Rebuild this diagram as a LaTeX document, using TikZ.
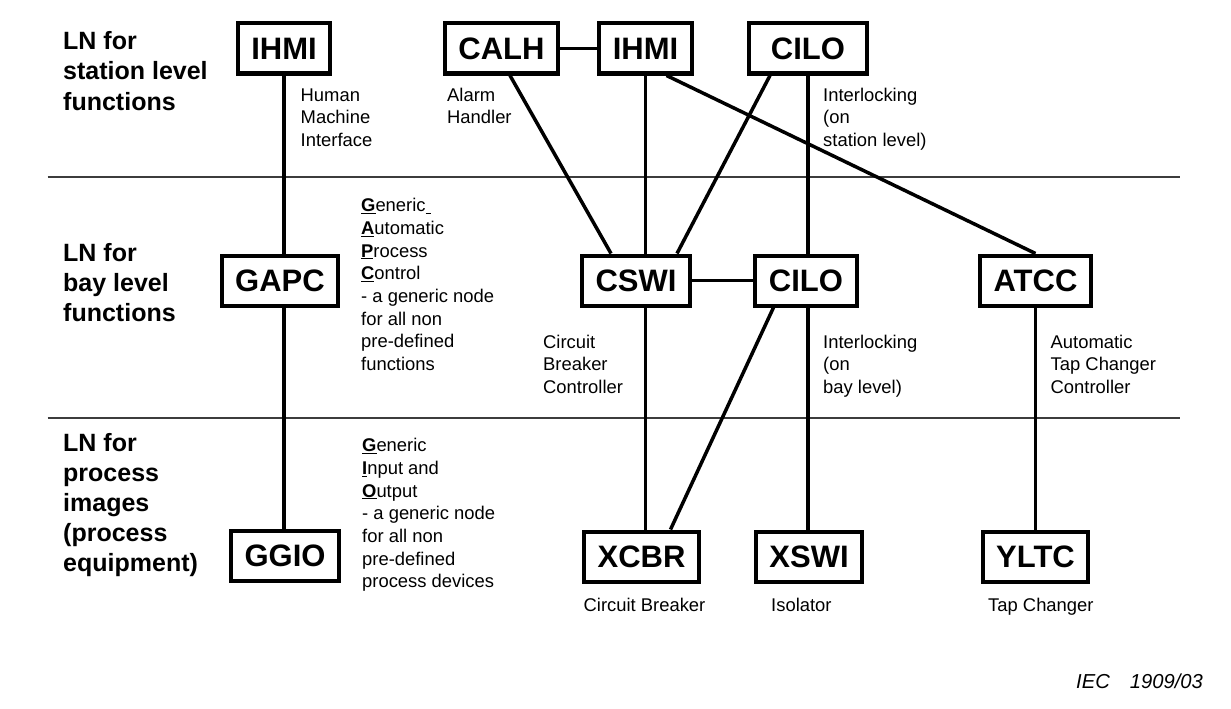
\documentclass[tikz,border=0pt]{standalone}
\usepackage{fontspec}
\setmainfont{Liberation Sans}
\usepackage{tikz}
\usepackage{xcolor}
\usetikzlibrary{positioning,calc}
\definecolor{ink}{HTML}{000000}
\definecolor{rule}{HTML}{3C3C3C}
\newcommand{\ul}[1]{\underline{\textbf{#1}}}
\tikzset{
  lnbox/.style={draw=ink, line width=4pt, inner xsep=13.5pt, inner ysep=0pt,
                minimum height=50pt, font=\fontsize{31}{31}\selectfont\bfseries},
  link/.style={draw=ink, line width=3.5pt},
  divider/.style={draw=rule, line width=1.5pt},
  levellbl/.style={anchor=base west, inner sep=0pt, align=left,
                   font=\fontsize{25}{30}\selectfont\bfseries},
  note/.style={anchor=base west, inner sep=0pt, align=left,
               font=\fontsize{18.4}{22.7}\selectfont}
}
\begin{document}
\begin{tikzpicture}[x=1pt,y=-1pt]
        \useasboundingbox (0,0) rectangle (1231,709);
        % level dividers
        \draw[divider] (47.5,177) -- (1180,177);
        \draw[divider] (47.5,418) -- (1180,418);
        % level labels (placed at the baseline of their last line)
        \node[levellbl] (lvsta) at (63,110) {LN for\\station level\\functions};
        \node[levellbl] (lvbay) at (63,321.7) {LN for\\bay level\\functions};
        \node[levellbl] (lvproc) at (63,571.7) {LN for\\process\\images\\(process\\equipment)};
        % station level
        \node[lnbox] (ihmiA) at (284,48.5) {IHMI};
        \node[lnbox] (calh) at (501.5,48.5) {CALH};
        \node[lnbox] (ihmiB) at (645.5,48.5) {IHMI};
        \node[lnbox,minimum width=118pt] (ciloA) at (808,48.5) {CILO};
        % bay level
        \node[lnbox] (gapc) at (280,280.5) {GAPC};
        \node[lnbox] (cswi) at (636,280.5) {CSWI};
        \node[lnbox] (ciloB) at (806,280.5) {CILO};
        \node[lnbox] (atcc) at (1035.5,280.5) {ATCC};
        % process level
        \node[lnbox] (ggio) at (285,556) {GGIO};
        \node[lnbox] (xcbr) at (641.5,556.5) {XCBR};
        \node[lnbox] (xswi) at (809,556.5) {XSWI};
        \node[lnbox] (yltc) at (1035.5,556.5) {YLTC};
        % descriptions
        \node[note] (dihmi) at (300.5,146.4) {Human\\Machine\\Interface};
        \node[note] (dcalh) at (447,123.7) {Alarm\\Handler};
        \node[note] (dciloA) at (823,146.4) {Interlocking\\(on\\station level)};
        \node[note] (dgapc) at (361,370.6) {\ul{G}eneric\underline{\hspace{5pt}}\\\ul{A}utomatic\\\ul{P}rocess\\\ul{C}ontrol\\- a generic node\\for all non\\pre-defined\\functions};
        \node[note] (dcswi) at (543,393.4) {Circuit\\Breaker\\Controller};
        \node[note] (dciloB) at (823,393.4) {Interlocking\\(on\\bay level)};
        \node[note] (datcc) at (1050.5,393.4) {Automatic\\Tap Changer\\Controller};
        \node[note] (dggio) at (362,587.9) {\ul{G}eneric\\\ul{I}nput and\\\ul{O}utput\\- a generic node\\for all non\\pre-defined\\process devices};
        \node[note] (dxcbr) at (583.5,611.7) {Circuit Breaker};
        \node[note] (dxswi) at (771,611.7) {Isolator};
        \node[note] (dyltc) at (988,611.7) {Tap Changer};
        \node[note,font=\fontsize{20.2}{20.2}\selectfont\itshape] (iec) at (1076,688) {IEC\hspace{20pt}1909/03};
        % vertical links
        \draw[link] (ihmiA.south) -- (ihmiA.south |- gapc.north);
        \draw[link] (ihmiA.south |- gapc.south) -- (ihmiA.south |- ggio.north);
        \draw[link] (ihmiB.south) -- (ihmiB.south |- cswi.north);
        \draw[link] (ihmiB.south |- cswi.south) -- (ihmiB.south |- xcbr.north);
        \draw[link] (ciloA.south) -- (ciloA.south |- ciloB.north);
        \draw[link] (ciloA.south |- ciloB.south) -- (ciloA.south |- xswi.north);
        \draw[link] (atcc.south) -- (yltc.north);
        % horizontal links
        \draw[link] (calh.east) -- (ihmiB.west);
        \draw[link] (cswi.east) -- (ciloB.west);
        % diagonal links
        \draw[link] ([xshift=8.5pt]calh.south) -- ([xshift=-25pt]cswi.north);
        \draw[link] ([xshift=-38pt]ciloA.south) -- ([xshift=41pt]cswi.north);
        \draw[link] ([xshift=21pt]ihmiB.south) -- (atcc.north);
        \draw[link] ([xshift=-32.5pt]ciloB.south) -- ([xshift=29pt]xcbr.north);
      \end{tikzpicture}
\end{document}
